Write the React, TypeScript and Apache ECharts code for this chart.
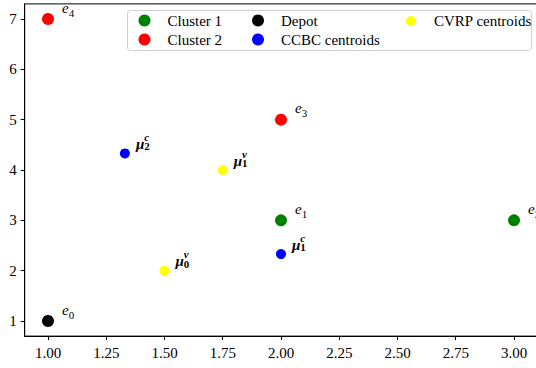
import React, { useEffect, useRef } from "react";
import * as echarts from "echarts";

// Customer points by cluster: [x, y, index]
const cluster1 = [
  [2, 3, 1],
  [3, 3, 2],
];
const cluster2 = [
  [2, 5, 3],
  [1, 7, 4],
];
const depot = [[1, 1, 0]];
// Centroids: [x, y, index]
const ccbcCentroids = [
  [2, 2.33, 1],
  [1.33, 4.33, 2],
];
const cvrpCentroids = [
  [1.5, 2, 0],
  [1.75, 4, 1],
];

// Data extent of the plot and tick spacing
const xRange = [0.9, 3.1];
const yRange = [0.7, 7.3];
const xTickStep = 0.25;
const yTickStep = 1;

const FONT = "Liberation Serif";

// Plot box in pixels
const W = 536;
const H = 368;
const PLOT_LEFT = 24.7;
const PLOT_RIGHT = 537.3;
const PLOT_TOP = 3.9;
const PLOT_BOTTOM = 336.1;

// Tick-label axes live on their own grids whose extents are whole multiples of the
// tick step, laid out so that the value->pixel mapping equals the plot's.
const xTickMin = Math.floor(xRange[0] / xTickStep) * xTickStep;
const xTickMax = Math.ceil(xRange[1] / xTickStep) * xTickStep;
const yTickMin = Math.floor(yRange[0] / yTickStep) * yTickStep;
const yTickMax = Math.ceil(yRange[1] / yTickStep) * yTickStep;
const pxPerX = (PLOT_RIGHT - PLOT_LEFT) / (xRange[1] - xRange[0]);
const pxPerY = (PLOT_BOTTOM - PLOT_TOP) / (yRange[1] - yRange[0]);
const xTickGridLeft = PLOT_LEFT - (xRange[0] - xTickMin) * pxPerX;
const xTickGridRight = W - (PLOT_RIGHT + (xTickMax - xRange[1]) * pxPerX);
const yTickGridTop = PLOT_TOP - (yTickMax - yRange[1]) * pxPerY;
const yTickGridBottom = H - (PLOT_BOTTOM + (yRange[0] - yTickMin) * pxPerY);

const eLabel = {
  show: true,
  position: "right",
  distance: 8,
  offset: [0, -10],
  formatter: (p: any) => `{e|e}{sub|${p.value[2]}}`,
  rich: {
    e: { fontFamily: FONT, fontStyle: "italic", fontSize: 15, color: "#000", lineHeight: 18, verticalAlign: "top" },
    sub: { fontFamily: FONT, fontSize: 11, color: "#000", lineHeight: 18, verticalAlign: "bottom" },
  },
};

const muLabel = (sup: string) => ({
  show: true,
  position: "right",
  distance: 6,
  offset: [0, -11.5],
  formatter: (p: any) => `{g|μ}{sup|${sup}}\n{mu|μ}{sub|${p.value[2]}}`,
  rich: {
    g: { fontFamily: FONT, fontStyle: "italic", fontWeight: "bold", fontSize: 15, color: "transparent", lineHeight: 4 },
    sup: { fontFamily: FONT, fontStyle: "italic", fontWeight: "bold", fontSize: 11, color: "#000", lineHeight: 4 },
    mu: { fontFamily: FONT, fontStyle: "italic", fontWeight: "bold", fontSize: 15, color: "#000", lineHeight: 10 },
    sub: { fontFamily: FONT, fontWeight: "bold", fontSize: 11, color: "#000", lineHeight: 10, padding: [5, 0, 0, 0] },
  },
});

const hiddenAxis = {
  show: false,
  splitLine: { show: false },
};

const gridBase = { outerBoundsMode: "none", containLabel: false };

export default function App() {
  const ref = useRef<HTMLDivElement>(null);

  useEffect(() => {
    if (!ref.current) return;
    const chart = echarts.init(ref.current, null, { renderer: "svg" });

    const legendText = { fontFamily: FONT, fontSize: 15, color: "#000", padding: [0, 0, 0, 3] };
    const tickRich = { t: { fontFamily: FONT, fontSize: 15, color: "#000" } };

    chart.setOption({
      animation: false,
      backgroundColor: "#fff",
      textStyle: { fontFamily: FONT },
      grid: [
        {
          ...gridBase,
          left: PLOT_LEFT,
          top: PLOT_TOP,
          right: W - PLOT_RIGHT,
          bottom: H - PLOT_BOTTOM,
          show: true,
          borderColor: "#000",
          borderWidth: 1,
          backgroundColor: "transparent",
        },
        { ...gridBase, left: xTickGridLeft, right: xTickGridRight, top: PLOT_TOP, bottom: H - PLOT_BOTTOM },
        { ...gridBase, left: PLOT_LEFT, right: W - PLOT_RIGHT, top: yTickGridTop, bottom: yTickGridBottom },
      ],
      xAxis: [
        {
          gridIndex: 0,
          type: "value",
          min: xRange[0],
          max: xRange[1],
          splitLine: { show: false },
          axisLine: { show: true, onZero: false, lineStyle: { color: "#000", width: 1 } },
          axisTick: { show: false },
          axisLabel: { show: false },
        },
        {
          gridIndex: 1,
          type: "value",
          min: xTickMin,
          max: xTickMax,
          interval: xTickStep,
          splitLine: { show: false },
          axisLine: { show: false, onZero: false },
          axisTick: { show: true, inside: false, length: 4, lineStyle: { color: "#000" } },
          axisLabel: {
            fontFamily: FONT,
            fontSize: 15,
            color: "#000",
            showMinLabel: false,
            showMaxLabel: false,
            formatter: (v: number) => `{t|${v.toFixed(2)}}`,
            rich: tickRich,
            margin: 9,
          },
        },
        { gridIndex: 2, type: "value", min: xRange[0], max: xRange[1], ...hiddenAxis },
      ],
      yAxis: [
        {
          gridIndex: 0,
          type: "value",
          min: yRange[0],
          max: yRange[1],
          splitLine: { show: false },
          axisLine: { show: true, onZero: false, lineStyle: { color: "#000", width: 1 } },
          axisTick: { show: false },
          axisLabel: { show: false },
        },
        { gridIndex: 1, type: "value", min: yRange[0], max: yRange[1], ...hiddenAxis },
        {
          gridIndex: 2,
          type: "value",
          min: yTickMin,
          max: yTickMax,
          interval: yTickStep,
          splitLine: { show: false },
          axisLine: { show: false, onZero: false },
          axisTick: { show: true, inside: false, length: 4, lineStyle: { color: "#000" } },
          axisLabel: {
            fontFamily: FONT,
            fontSize: 15,
            color: "#000",
            showMinLabel: false,
            showMaxLabel: false,
            formatter: (v: number) => `{t|${v}}`,
            rich: tickRich,
            margin: 8,
          },
        },
      ],
      graphic: [
        {
          type: "rect",
          z: 50,
          shape: { x: 127.5, y: 10.5, width: 404, height: 40, r: 3 },
          style: { fill: "rgba(255,255,255,0.85)", stroke: "#d0d0d0", lineWidth: 1 },
        },
      ],
      legend: [
        {
          orient: "vertical",
          left: 138.5,
          top: 13,
          itemWidth: 30,
          itemHeight: 12,
          itemGap: 4,
          padding: 0,
          z: 60,
          textStyle: legendText,
          data: [
            { name: "Cluster 1", icon: "circle" },
            { name: "Cluster 2", icon: "circle" },
          ],
        },
        {
          orient: "vertical",
          left: 252,
          top: 13,
          itemWidth: 30,
          itemHeight: 12,
          itemGap: 4,
          padding: 0,
          z: 60,
          textStyle: legendText,
          data: [
            { name: "Depot", icon: "circle" },
            { name: "CCBC centroids", icon: "circle" },
          ],
        },
        {
          orient: "vertical",
          left: 406,
          top: 13.5,
          itemWidth: 30,
          itemHeight: 10,
          itemGap: 4,
          padding: 0,
          z: 60,
          textStyle: legendText,
          data: [{ name: "CVRP centroids", icon: "circle" }],
        },
      ],
      series: [
        {
          name: "Cluster 1",
          type: "scatter",
          data: cluster1,
          symbolSize: 12,
          itemStyle: { color: "#008000", opacity: 1 },
          label: eLabel,
        },
        {
          name: "Cluster 2",
          type: "scatter",
          data: cluster2,
          symbolSize: 12,
          itemStyle: { color: "#ff0000", opacity: 1 },
          label: eLabel,
        },
        {
          name: "Depot",
          type: "scatter",
          data: depot,
          symbolSize: 12,
          itemStyle: { color: "#000000", opacity: 1 },
          label: eLabel,
        },
        {
          name: "CCBC centroids",
          type: "scatter",
          data: ccbcCentroids,
          symbolSize: 10,
          itemStyle: { color: "#0000ff", opacity: 1 },
          label: muLabel("c"),
        },
        {
          name: "CVRP centroids",
          type: "scatter",
          data: cvrpCentroids,
          symbolSize: 10,
          itemStyle: { color: "#ffff00", opacity: 1 },
          label: muLabel("v"),
        },
      ],
    });

    return () => chart.dispose();
  }, []);

  return (
    <div
      ref={ref}
      style={{ position: "fixed", left: 0, top: 0, width: W, height: H }}
    />
  );
}
